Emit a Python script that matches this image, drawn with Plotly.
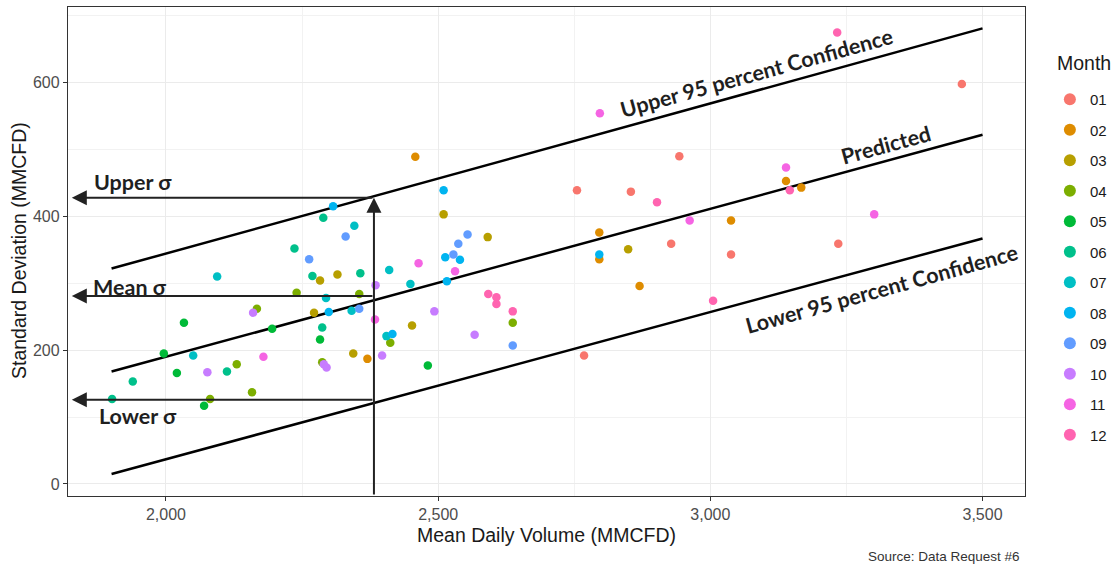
import plotly.graph_objects as go

# ---------------- data ----------------
MONTHS = ["01", "02", "03", "04", "05", "06", "07", "08", "09", "10", "11", "12"]
COLORS = ["#F8766D", "#DE8C00", "#B79F00", "#7CAE00", "#00BA38", "#00C08B",
          "#00BFC4", "#00B4F0", "#619CFF", "#C77CFF", "#F564E3", "#FF64B0"]

x_01 = [2755, 2854, 2928, 3038, 2768, 2943, 3462, 3235]
y_01 = [439, 437, 359, 343, 192, 490, 598, 359]
x_02 = [2458, 3038, 2796, 2796, 2870, 3139, 3167, 2370]
y_02 = [489, 394, 376, 336, 296, 453, 443, 187]
x_03 = [2510, 2591, 2849, 2452, 2283, 2315, 2272, 2344]
y_03 = [403, 369, 351, 237, 304, 313, 256, 195]
x_04 = [2240, 2355, 2167, 2130, 2081, 2158, 2287, 2412, 2637]
y_04 = [286, 284, 262, 179, 127, 137, 182, 211, 241]
x_05 = [2033, 1996, 2020, 2070, 2195, 2283, 2481]
y_05 = [241, 195, 166, 117, 232, 216, 177]
x_06 = [2289, 2236, 2269, 2357, 2287, 2112, 1939, 1901]
y_06 = [398, 352, 311, 315, 234, 168, 153, 127]
x_07 = [2346, 2094, 2410, 2294, 2341, 2405, 2050, 2449]
y_07 = [386, 310, 320, 278, 259, 221, 192, 299]
x_08 = [2307, 2510, 2299, 2416, 2513, 2540, 2516, 2796]
y_08 = [415, 439, 257, 224, 339, 335, 303, 343]
x_09 = [2330, 2263, 2355, 2554, 2537, 2528, 2637]
y_09 = [370, 336, 262, 373, 359, 343, 207]
x_10 = [2385, 2160, 2076, 2290, 2295, 2397, 2493, 2567]
y_10 = [297, 256, 167, 179, 174, 192, 258, 223]
x_11 = [2797, 2464, 2531, 2179, 2384, 3139, 2962, 3301]
y_11 = [554, 330, 318, 190, 246, 473, 394, 403]
x_12 = [3233, 2902, 3146, 3005, 2592, 2607, 2607, 2637]
y_12 = [675, 421, 439, 274, 284, 279, 269, 258]

XS = [x_01, x_02, x_03, x_04, x_05, x_06, x_07, x_08, x_09, x_10, x_11, x_12]
YS = [y_01, y_02, y_03, y_04, y_05, y_06, y_07, y_08, y_09, y_10, y_11, y_12]

# regression / confidence lines
line_x = [1900, 3500]
upper_y = [322, 681]
pred_y = [168, 522]
lower_y = [15, 367]

# sigma read-offs
x_sel = 2382
upper_sigma = 428
mean_sigma = 281
lower_sigma = 126

X_RANGE = [1820, 3578]
Y_RANGE = [-18, 713]
X_TICKS = [2000, 2500, 3000, 3500]
X_TICKTEXT = ["2,000", "2,500", "3,000", "3,500"]
Y_TICKS = [0, 200, 400, 600]

# ---------------- figure ----------------
fig = go.Figure()

for name, lx, ly in [("Upper 95 percent Confidence", line_x, upper_y),
                     ("Predicted", line_x, pred_y),
                     ("Lower 95 percent Confidence", line_x, lower_y)]:
    fig.add_trace(go.Scatter(x=lx, y=ly, mode="lines", name=name,
                             line=dict(color="#000000", width=2.5),
                             showlegend=False, hoverinfo="skip"))

for m, c, xs, ys in zip(MONTHS, COLORS, XS, YS):
    fig.add_trace(go.Scatter(x=xs, y=ys, mode="markers", name=m, legendgroup=m,
                             marker=dict(color=c, size=8.5, line=dict(width=0))))

ARROW_COLOR = "#222222"
# vertical arrow
fig.add_annotation(x=x_sel, y=upper_sigma, ax=x_sel, ay=Y_RANGE[0],
                   xref="x", yref="y", axref="x", ayref="y", text="",
                   showarrow=True, arrowhead=2, arrowsize=1.5, arrowwidth=2,
                   arrowcolor=ARROW_COLOR)
# horizontal arrows
for yv in [upper_sigma, mean_sigma, lower_sigma]:
    fig.add_annotation(x=X_RANGE[0] + 7, y=yv, ax=x_sel, ay=yv,
                       xref="x", yref="y", axref="x", ayref="y", text="",
                       showarrow=True, arrowhead=2, arrowsize=1.5, arrowwidth=2,
                       arrowcolor=ARROW_COLOR)

LBL_FONT = dict(family="Lato, 'Open Sans', sans-serif", size=21.5, color="#1f1f1f")
for txt, xv, yv in [("<b>Upper σ</b>", 1864, 452),
                    ("<b>Mean σ</b>", 1862, 295),
                    ("<b>Lower σ</b>", 1873, 102)]:
    fig.add_annotation(x=xv, y=yv, text=txt, showarrow=False, xanchor="left",
                       yanchor="middle", font=LBL_FONT)

for txt, xv, yv in [("<b>Upper 95 percent Confidence</b>", 3084, 614),
                    ("<b>Predicted</b>", 3322, 506),
                    ("<b>Lower 95 percent Confidence</b>", 3314, 292)]:
    fig.add_annotation(x=xv, y=yv, text=txt, showarrow=False, textangle=-15.4,
                       xanchor="center", yanchor="middle", font=LBL_FONT)

TITLE_FONT = dict(family="Arial, Liberation Sans", size=19.5, color="#1a1a1a")
fig.add_annotation(x=0.5005, y=-0.0798, xref="paper", yref="paper",
                   text="Mean Daily Volume (MMCFD)", showarrow=False,
                   xanchor="center", yanchor="middle", font=TITLE_FONT)
fig.add_annotation(x=-0.0512, y=0.501, xref="paper", yref="paper",
                   text="Standard Deviation (MMCFD)", showarrow=False, textangle=-90,
                   xanchor="center", yanchor="middle", font=TITLE_FONT)
fig.add_annotation(x=1.0313, y=0.885, xref="paper", yref="paper", text="Month",
                   showarrow=False, xanchor="left", yanchor="middle", font=TITLE_FONT)

fig.add_annotation(x=0.997, y=-0.123, xref="paper", yref="paper", text="Source: Data Request #6",
                   showarrow=False, font=dict(family="Arial, Liberation Sans", size=13.5, color="#333333"),
                   xanchor="right", yanchor="middle")

AX_COMMON = dict(showline=True, mirror=True, linecolor="#333333", linewidth=1.3,
                 ticks="outside", ticklen=4, tickcolor="#333333", tickwidth=1.2,
                 showgrid=True, gridcolor="#EBEBEB", gridwidth=1.2, zeroline=False,
                 automargin=False,
                 tickfont=dict(family="Arial, Liberation Sans", size=16, color="#4D4D4D"))

fig.update_xaxes(range=X_RANGE, tickvals=X_TICKS, ticktext=X_TICKTEXT,
                 minor=dict(tickvals=[2250, 2750, 3250], showgrid=True,
                            gridcolor="#F2F2F2", gridwidth=0.8, ticklen=0),
                 **AX_COMMON)
fig.update_yaxes(range=Y_RANGE, tickvals=Y_TICKS,
                 minor=dict(tickvals=[100, 300, 500, 700], showgrid=True,
                            gridcolor="#F2F2F2", gridwidth=0.8, ticklen=0),
                 **AX_COMMON)

fig.update_layout(
    width=1117, height=569,
    margin=dict(l=68, r=92, t=7, b=73, autoexpand=False),
    paper_bgcolor="white", plot_bgcolor="white",
    legend=dict(font=dict(family="Arial, Liberation Sans", size=15, color="#1a1a1a"),
                x=1.026, xanchor="left", y=0.8445, yanchor="top",
                traceorder="grouped", tracegroupgap=8, itemsizing="constant",
                bgcolor="rgba(0,0,0,0)"),
)

fig.write_html("out.html", config={"displayModeBar": False},
               post_script="document.body.style.margin='0px';")
